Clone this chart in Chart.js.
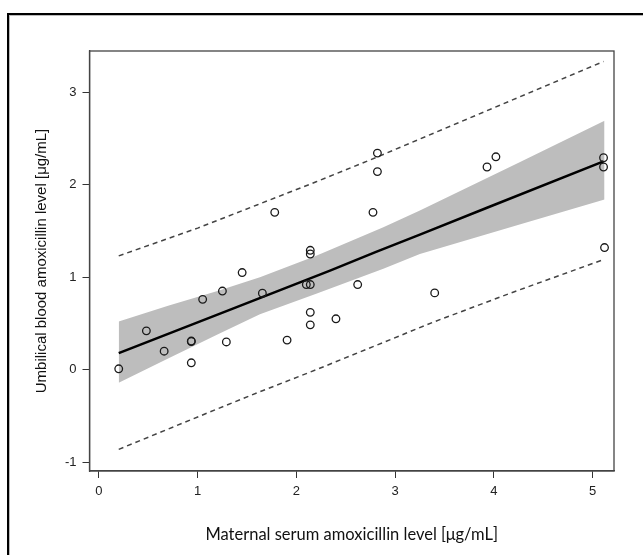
<!DOCTYPE html>
<html>
<head>
<meta charset="utf-8">
<script src="https://cdn.jsdelivr.net/npm/chart.js@4.4.0/dist/chart.umd.min.js"></script>
<style>
  body { margin: 0; background: #fff; overflow: hidden; }
  #wrap { position: relative; width: 643px; height: 555px; }
  #frame { position: absolute; left: 7px; top: 13px; width: 700px; height: 600px;
           border-left: 2px solid #000; border-top: 2px solid #000; box-shadow: inset 1px 1px 0 #bbb; pointer-events: none; }
  canvas { position: absolute; left: 0; top: 0; }
</style>
</head>
<body>
<div id="wrap">
  <canvas id="mycanvas" width="643" height="555"></canvas>
  <div id="frame"></div>
</div>
<script>
// measured points
var serumLevel = [0.20, 0.48, 0.66, 0.935, 0.935, 0.935, 1.05, 1.25, 1.29, 1.45,
                  1.655, 1.78, 1.905, 2.14, 2.14, 2.10, 2.14, 2.14, 2.14, 2.40,
                  2.62, 2.775, 2.82, 2.82, 3.40, 3.93, 4.02, 5.11, 5.11, 5.12];
var cordLevel = [0.01, 0.42, 0.20, 0.305, 0.31, 0.075, 0.76, 0.85, 0.30, 1.05,
                 0.826, 1.70, 0.32, 1.29, 1.25, 0.92, 0.92, 0.62, 0.485, 0.55,
                 0.92, 1.70, 2.14, 2.34, 0.83, 2.19, 2.30, 2.29, 2.19, 1.32];

// fitted line
var fitX = [0.2, 1.33, 2.34, 2.8, 3.25, 3.93, 5.11];
var fitY = [0.18, 0.65, 1.07, 1.27, 1.46, 1.75, 2.25];

// confidence band
var bandX = [0.2, 0.7, 1.2, 1.63, 2.2, 2.88, 3.25, 4.26, 5.12];
var bandUpper = [0.52, 0.69, 0.85, 1.0, 1.23, 1.54, 1.72, 2.24, 2.69];
var bandLower = [-0.14, 0.12, 0.38, 0.60, 0.82, 1.09, 1.25, 1.57, 1.84];

// prediction limits
var predX = [0.2, 1.0, 1.6, 2.2, 2.8, 3.4, 4.2, 5.11];
var predUpper = [1.23, 1.53, 1.78, 2.03, 2.29, 2.56, 2.92, 3.33];
var predLower = [-0.86, -0.51, -0.25, 0.0, 0.26, 0.52, 0.84, 1.19];

var xTicks = [0, 1, 2, 3, 4, 5];
var yTicks = [-1, 0, 1, 2, 3];

function pts(xs, ys){
    var out = [];
    for(var i in xs){
        out.push({x: xs[i], y: ys[i]});
    }
    return out;
}

var tickFont = {family: "'Liberation Sans', Arial, sans-serif", size: 13};

var plotBox = {
    id: 'plotBox',
    afterDatasetsDraw: function(chart){
        var a = chart.chartArea, ctx = chart.ctx;
        ctx.save();
        ctx.strokeStyle = '#444';
        ctx.lineWidth = 1.3;
        ctx.strokeRect(a.left, a.top, a.right - a.left, a.bottom - a.top);
        ctx.restore();
    }
};

var chartdata = {
    datasets: [
        {
            label: 'points',
            data: pts(serumLevel, cordLevel),
            order: 0,
            pointStyle: 'circle',
            pointRadius: 3.8,
            borderColor: '#1a1a1a',
            borderWidth: 1.3,
            backgroundColor: 'rgba(0,0,0,0)'
        },
        {
            label: 'fit',
            data: pts(fitX, fitY),
            order: 1,
            showLine: true,
            pointRadius: 0,
            borderColor: '#000',
            borderWidth: 2.5,
            tension: 0
        },
        {
            label: 'pred upper',
            data: pts(predX, predUpper),
            order: 2,
            showLine: true,
            pointRadius: 0,
            borderColor: '#444',
            borderWidth: 1.5,
            borderDash: [5, 4]
        },
        {
            label: 'pred lower',
            data: pts(predX, predLower),
            order: 3,
            showLine: true,
            pointRadius: 0,
            borderColor: '#444',
            borderWidth: 1.5,
            borderDash: [5, 4]
        },
        {
            label: 'band upper',
            data: pts(bandX, bandUpper),
            order: 4,
            showLine: true,
            pointRadius: 0,
            borderWidth: 0,
            borderColor: 'rgba(0,0,0,0)',
            backgroundColor: '#bdbdbd',
            fill: '+1'
        },
        {
            label: 'band lower',
            data: pts(bandX, bandLower),
            order: 5,
            showLine: true,
            pointRadius: 0,
            borderWidth: 0,
            borderColor: 'rgba(0,0,0,0)',
            fill: false
        }
    ]
};

var ctx = document.getElementById('mycanvas');
var ScatterGraph = new Chart(ctx, {
    type: 'scatter',
    data: chartdata,
    plugins: [plotBox],
    options: {
        responsive: false,
        animation: false,
        layout: { padding: { left: 28, top: 51, right: 29, bottom: 7 } },
        plugins: { legend: { display: false }, tooltip: { enabled: false } },
        scales: {
            x: {
                type: 'linear',
                min: -0.096,
                max: 5.216,
                afterBuildTicks: function(s){ s.ticks = xTicks.map(function(v){ return {value: v}; }); },
                afterFit: function(s){ s.height = 77; },
                grid: { display: true, drawOnChartArea: false, drawTicks: true, tickLength: 7, color: '#333', lineWidth: 1 },
                border: { display: true, color: '#444', width: 1.3 },
                ticks: { font: tickFont, color: '#222', padding: 6, maxRotation: 0 },
                title: {
                    display: true,
                    text: 'Maternal serum amoxicillin level [\u03bcg/mL]',
                    font: { family: "Lato, 'Open Sans', sans-serif", size: 16.5 },
                    color: '#111',
                    padding: { top: 4, bottom: 3 }
                }
            },
            y: {
                type: 'linear',
                min: -1.094,
                max: 3.443,
                afterBuildTicks: function(s){ s.ticks = yTicks.map(function(v){ return {value: v}; }); },
                afterFit: function(s){ s.width = 61.5; },
                grid: { display: true, drawOnChartArea: false, drawTicks: true, tickLength: 7, color: '#333', lineWidth: 1 },
                border: { display: true, color: '#444', width: 1.3 },
                ticks: { font: tickFont, color: '#222', padding: 6 },
                title: {
                    display: true,
                    text: 'Umbilical blood amoxicillin level [\u03bcg/mL]',
                    font: { family: "'Liberation Sans', Arial, sans-serif", size: 15 },
                    color: '#111',
                    padding: { top: 5, bottom: 0 }
                }
            }
        }
    }
});
</script>
</body>
</html>
